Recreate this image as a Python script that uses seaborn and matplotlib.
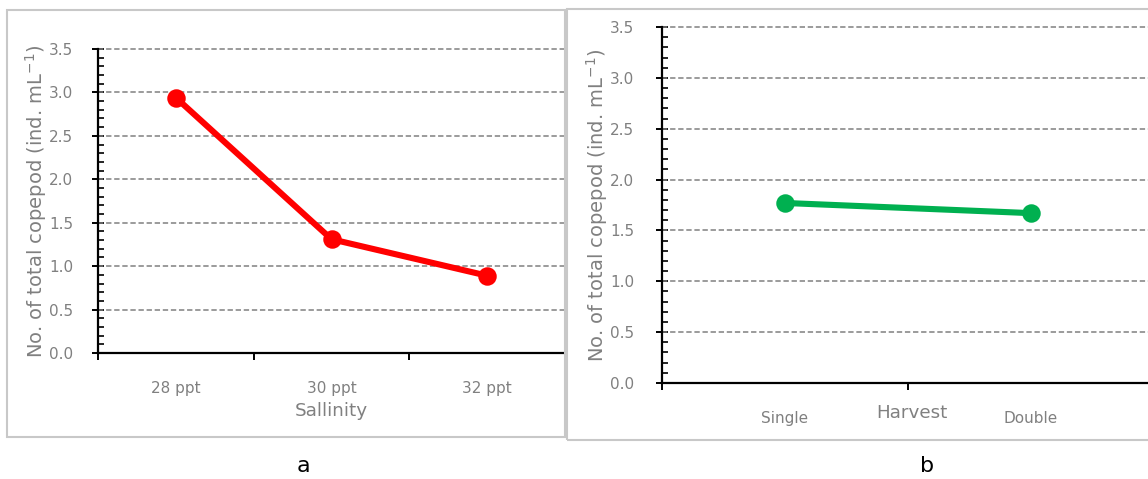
import pandas as pd
import numpy as np
import seaborn as sns
import matplotlib.pyplot as plt
from matplotlib.patches import Rectangle
from matplotlib.ticker import MultipleLocator, FixedLocator

salinity = ["28 ppt", "30 ppt", "32 ppt"]
salinity_counts = [2.94, 1.31, 0.89]

harvest = ["Single", "Double"]
harvest_counts = [1.77, 1.67]

yticks = [0.0, 0.5, 1.0, 1.5, 2.0, 2.5, 3.0, 3.5]

sns.set_style("white")
plt.rcParams["font.family"] = ["DejaVu Sans"]
plt.rcParams["mathtext.default"] = "regular"

W, H = 1148, 479
fig = plt.figure(figsize=(W / 100, H / 100), dpi=100)

def fx(px):
    return px / W

def fy(py):
    return 1 - py / H

# light grey frames around each panel
for x0, y0, x1, y1 in [(7, 10, 565, 437), (567, 9, 1160, 440)]:
    fig.patches.append(Rectangle((fx(x0), fy(y1)), fx(x1 - x0), (y1 - y0) / H,
                                 transform=fig.transFigure, fill=False,
                                 edgecolor="#c8c8c8", linewidth=1.5))

grey = "#808080"
ylab = "No. of total copepod (ind. mL$^{-1}$)"

ax1 = fig.add_axes([fx(98), fy(353), fx(565 - 98), (353 - 49) / H])
ax2 = fig.add_axes([fx(662), fy(383), fx(1148 - 662), (383 - 27) / H])

df_a = pd.DataFrame({"Sallinity": salinity, "count": salinity_counts})
df_b = pd.DataFrame({"Harvest": harvest, "count": harvest_counts})

sns.pointplot(data=df_a, x="Sallinity", y="count", order=salinity, color="#ff0000",
              errorbar=None, markers="o", linewidth=4.4, markersize=10, ax=ax1, zorder=5)
sns.pointplot(data=df_b, x="Harvest", y="count", order=harvest, color="#00b050",
              errorbar=None, markers="o", linewidth=4.4, markersize=10, ax=ax2, zorder=5)

for ax, cats, xr in [(ax1, salinity, (-0.5, 2.5)), (ax2, harvest, (-0.5, 1.476))]:
    ax.set_ylim(0, 3.5)
    ax.set_xlim(*xr)
    ax.set_yticks(yticks)
    ax.set_yticklabels([f"{v:.1f}" for v in yticks])
    ax.yaxis.set_minor_locator(MultipleLocator(0.1))
    ax.set_xticks(range(len(cats)))
    ax.set_xticklabels(cats)
    ax.xaxis.set_minor_locator(FixedLocator(np.arange(-0.5, len(cats), 1.0)))
    ax.grid(False)
    for v in yticks[1:]:
        ax.axhline(v, color=grey, linewidth=1.1, linestyle=(0, (3.5, 1.8)),
                   zorder=1, clip_on=False)
    for s in ["top", "right"]:
        ax.spines[s].set_visible(False)
    for s in ["left", "bottom"]:
        ax.spines[s].set_color("black")
        ax.spines[s].set_linewidth(1.6)
    ax.tick_params(axis="y", which="major", direction="inout", length=8, width=1.4,
                   color="black", labelcolor=grey, labelsize=11, pad=14, left=True)
    ax.tick_params(axis="y", which="minor", direction="in", length=4, width=1.2,
                   color="black", left=True)
    ax.tick_params(axis="x", which="major", length=0, pad=20, labelcolor=grey,
                   labelsize=11)
    ax.tick_params(axis="x", which="minor", direction="out", length=5, width=1.4,
                   color="black", bottom=True)
    ax.set_ylabel(ylab, fontsize=14, color=grey)

ax2.tick_params(axis="y", which="major", pad=16)
ax2.tick_params(axis="x", which="major", pad=20)
ax1.set_xlabel("Sallinity", fontsize=13.2, color=grey)
ax2.set_xlabel("Harvest", fontsize=13.2, color=grey)
ax1.xaxis.set_label_coords(0.5, -(411 - 353) / (353 - 49), transform=ax1.transAxes)
ax2.xaxis.set_label_coords((912 - 662) / (1148 - 662), -(413 - 383) / (383 - 27),
                           transform=ax2.transAxes)
ax1.xaxis.label.set_va("center")
ax2.xaxis.label.set_va("center")
ax1.yaxis.set_label_coords((36 - 98) / (565 - 98), 0.5)
ax2.yaxis.set_label_coords((597 - 662) / (1148 - 662), 0.5)
ax1.yaxis.label.set_va("center")
ax2.yaxis.label.set_va("center")

fig.text(fx(303), fy(466), "a", fontsize=16, color="black", ha="center", va="center")
fig.text(fx(927), fy(466), "b", fontsize=16, color="black", ha="center", va="center")

fig.savefig("out.png", dpi=100)
